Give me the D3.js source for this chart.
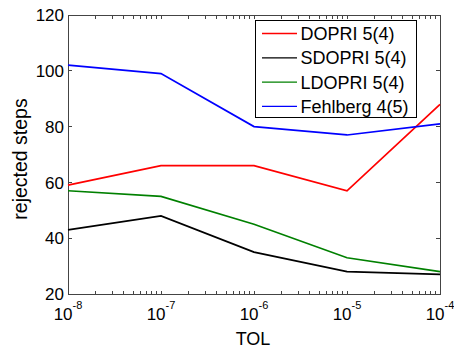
<!DOCTYPE html>
<html><head><meta charset="utf-8">
<script src="https://cdn.jsdelivr.net/npm/d3@7"></script>
<style>body{margin:0;background:#fff}svg{display:block;font-family:"Liberation Sans",Arial,sans-serif}</style>
</head><body>
<svg id="c" width="454" height="349"></svg>
<script>
const tol = [1e-8, 1e-7, 1e-6, 1e-5, 1e-4];
const xTickExps = [-8, -7, -6, -5, -4];
const yTicks = [20, 40, 60, 80, 100, 120];
const seriesNames = ["DOPRI 5(4)", "SDOPRI 5(4)", "LDOPRI 5(4)", "Fehlberg 4(5)"];
const seriesColors = ["#ff0000", "#000000", "#008000", "#0000ff"];
const dopri = [59, 66, 66, 57, 88];
const sdopri = [43, 48, 35, 28, 27];
const ldopri = [57, 55, 45, 33, 28];
const fehlberg = [102, 99, 80, 77, 81];
const allSeries = [dopri, sdopri, ldopri, fehlberg];

const svg = d3.select("#c");
const L = 68, R = 440, T = 15, B = 294;
const x = d3.scaleLog().domain([1e-8, 1e-4]).range([L, R]);
const y = d3.scaleLinear().domain([20, 120]).range([B, T]);
const axisCol = "#444";

const minor = [];
for (let e = -8; e < -4; e++) for (let k = 2; k <= 9; k++) minor.push(k * Math.pow(10, e));
const g = svg.append("g");
[[B, -1], [T, 1]].forEach(([yy, dir]) => {
  g.selectAll(null).data(minor.concat(tol)).enter().append("line")
    .attr("x1", d => x(d)).attr("x2", d => x(d))
    .attr("y1", yy).attr("y2", yy + dir * 3.5)
    .attr("stroke", axisCol).attr("stroke-width", 1).attr("shape-rendering", "crispEdges");
});
[[L, 1], [R, -1]].forEach(([xx, dir]) => {
  g.selectAll(null).data(yTicks).enter().append("line")
    .attr("x1", xx).attr("x2", xx + dir * 4)
    .attr("y1", d => y(d)).attr("y2", d => y(d))
    .attr("stroke", axisCol).attr("stroke-width", 1).attr("shape-rendering", "crispEdges");
});
g.append("rect").attr("x", L).attr("y", T).attr("width", R - L).attr("height", B - T)
  .attr("fill", "none").attr("stroke", axisCol).attr("stroke-width", 1).attr("shape-rendering", "crispEdges");

svg.selectAll(null).data(yTicks).enter().append("text")
  .attr("x", L - 4).attr("y", d => y(d)).attr("dy", "0.36em")
  .attr("text-anchor", "end").attr("font-size", 17).attr("fill", "#000").text(d => d);

xTickExps.forEach((e, i) => {
  const t = svg.append("text").attr("x", x(tol[i])).attr("y", 320)
    .attr("text-anchor", "middle").attr("font-size", 17).attr("fill", "#000");
  t.append("tspan").text("10");
  t.append("tspan").attr("font-size", 11).attr("dy", -11).text(String(e));
});

svg.append("text").attr("x", (L + R) / 2 - 1).attr("y", 345).attr("text-anchor", "middle")
  .attr("font-size", 18).text("TOL");
svg.append("text").attr("transform", `translate(27,159) rotate(-90)`).attr("text-anchor", "middle")
  .attr("font-size", 19.5).text("rejected steps");

const line = d3.line().x((d, i) => x(tol[i])).y(d => y(d));
allSeries.forEach((s, k) => {
  svg.append("path").datum(s).attr("d", line).attr("fill", "none")
    .attr("stroke", seriesColors[k]).attr("stroke-width", 1.7).attr("stroke-linejoin", "miter");
});

const lg = svg.append("g");
lg.append("rect").attr("x", 255.5).attr("y", 20.5).attr("width", 161).attr("height", 97)
  .attr("fill", "#fff").attr("stroke", "#000").attr("stroke-width", 1);
seriesNames.forEach((n, k) => {
  const yy = 33.5 + k * 24.3;
  lg.append("line").attr("x1", 262).attr("x2", 297).attr("y1", yy).attr("y2", yy)
    .attr("stroke", seriesColors[k]).attr("stroke-width", 1.3);
  lg.append("text").attr("x", 300.5).attr("y", yy + 6.5).attr("font-size", 18).attr("fill", "#000").text(n);
});
</script>
</body></html>
